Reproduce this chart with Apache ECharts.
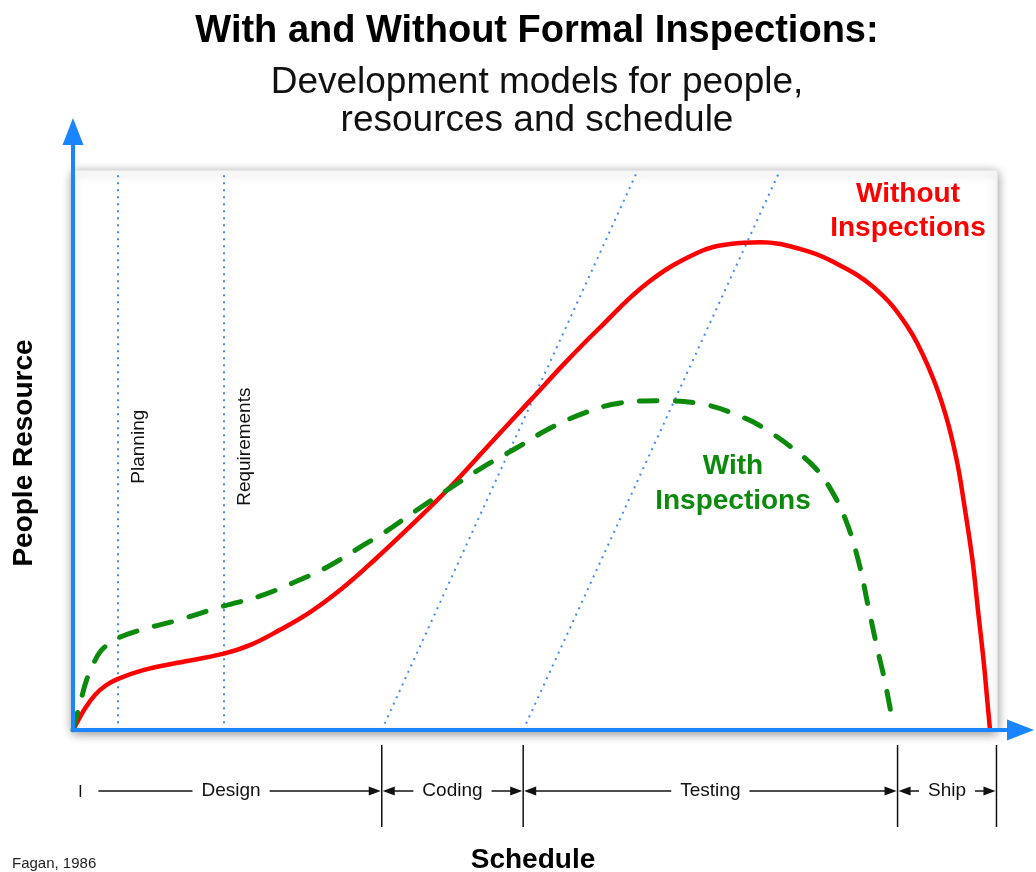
<!DOCTYPE html>
<html>
<head>
<meta charset="utf-8">
<title>With and Without Formal Inspections</title>
<script src="https://cdn.jsdelivr.net/npm/echarts@6/dist/echarts.min.js"></script>
<style>
  html, body { margin: 0; padding: 0; background: #fff; }
  #chart { width: 1036px; height: 872px; }
</style>
</head>
<body>
<div id="chart"></div>
<script>
// x = schedule (0..100 across the box), y = people resource (0..100 up to the box top)
const withoutInspections = [
    [0, 0], [0.65, 2.0], [1.4, 4.1], [2.4, 6.3], [3.5, 7.9], [4.8, 9.1], [7.6, 10.7],
    [11.3, 12.0], [16.2, 13.6], [19.2, 15.2], [22.4, 17.9], [25.7, 21.1], [29.2, 25.4],
    [32.7, 30.5], [36.5, 36.4], [40.8, 43.4], [45.1, 51.1], [49.6, 59.1], [53.3, 65.7],
    [56.7, 71.4], [62.1, 79.8], [67.5, 85.2], [71.1, 86.8], [74.4, 87.1], [78.7, 85.9],
    [81.9, 83.9], [86.6, 79.1], [90.3, 72.0], [92.8, 63.8], [94.4, 56.3], [95.6, 48.2],
    [96.5, 39.3], [97.3, 30.4], [97.9, 21.4], [98.5, 12.5], [98.9, 5.4], [99.2, 0]
];
const withInspections = [
    [0, 0], [0.43, 2.7], [0.87, 5.4], [1.4, 8.6], [2.2, 11.8], [3.0, 14.1], [4.0, 15.5],
    [5.1, 16.6], [7.6, 18.0], [11.3, 19.6], [16.2, 22.1], [20.2, 23.9], [23.8, 26.3],
    [27.5, 29.1], [31.1, 32.7], [33.8, 35.4], [37.2, 39.3], [40.8, 43.2], [44.4, 47.0],
    [48.1, 50.5], [51.6, 53.9], [55.6, 56.8], [59.2, 58.4], [63.5, 58.8], [67.5, 58.4],
    [72.7, 55.7], [75.4, 53.2], [78.1, 50.0], [80.3, 46.8], [81.9, 43.2], [83.6, 37.5],
    [85.0, 30.0], [86.0, 22.3], [87.0, 14.6], [87.8, 8.9], [88.6, 2.1]
];

// dotted guides
const guideNames = ['Planning', 'Requirements'];
const guideX = [4.8, 16.3];
const slantFrom = [33.4, 48.7];
const slantTo = [61.1, 76.5];

// phase bar under the axis
const phaseNames = ['Design', 'Coding', 'Testing', 'Ship'];
const phaseStart = [0.8, 33.4, 48.7, 89.2];
const phaseEnd = [33.4, 48.7, 89.2, 99.9];

const FONT = '"Liberation Sans", Arial, Helvetica, sans-serif';
const blue = '#1a85ff';

var chartDom = document.getElementById('chart');
var myChart = echarts.init(chartDom);

const arrowLine = {
    show: true,
    symbol: ['none', 'triangle'],
    symbolSize: [21, 27],
    lineStyle: { color: blue, width: 4 }
};

const renderPhase = (params, api) => {
    const i = params.dataIndex;
    const a = api.coord([api.value(0), 0.44]);
    const b = api.coord([api.value(1), 0.44]);
    const top = api.coord([0, 1])[1];
    const bottom = api.coord([0, 0])[1];
    const y = a[1];
    const ink = { stroke: '#111', lineWidth: 1.5 };
    const head = 12, half = 4.5;
    const kids = [
        { type: 'line', shape: { x1: b[0], y1: top, x2: b[0], y2: bottom }, style: ink },
        { type: 'polygon', shape: { points: [[b[0] - 1, y], [b[0] - 1 - head, y - half], [b[0] - 1 - head, y + half]] }, style: { fill: '#111' } }
    ];
    let x0;
    if (i === 0) {
        kids.push({ type: 'line', shape: { x1: a[0], y1: y - 6, x2: a[0], y2: y + 6 }, style: ink });
        x0 = a[0] + 18;
    } else {
        kids.push({ type: 'polygon', shape: { points: [[a[0] + 1, y], [a[0] + 1 + head, y - half], [a[0] + 1 + head, y + half]] }, style: { fill: '#111' } });
        x0 = a[0] + head;
    }
    kids.push({ type: 'line', shape: { x1: x0, y1: y, x2: b[0] - head, y2: y }, style: ink });
    kids.push({
        type: 'text', x: (a[0] + b[0]) / 2, y: y,
        style: {
            text: phaseNames[i], fontSize: 19, fontFamily: FONT, fill: '#111',
            align: 'center', verticalAlign: 'middle', backgroundColor: '#fff', padding: [2, 9]
        }
    });
    return { type: 'group', children: kids };
};

var option = {
    animation: false,
    backgroundColor: '#fff',
    title: {
        text: 'With and Without Formal Inspections:',
        subtext: 'Development models for people,\nresources and schedule',
        left: 532,
        textAlign: 'center',
        top: 7,
        itemGap: 12,
        textStyle: { fontFamily: FONT, fontSize: 38, fontWeight: 'bold', color: '#000', lineHeight: 40 },
        subtextStyle: { fontFamily: FONT, fontSize: 37, color: '#111', lineHeight: 38 }
    },
    grid: [
        { left: 73, right: 15.5, top: 131.5, bottom: 142 },
        { left: 73, right: 15.5, top: 745, bottom: 45 }
    ],
    xAxis: [
        {
            type: 'value', min: 0, max: 102.5, z: 6,
            axisLine: arrowLine, axisTick: { show: false }, axisLabel: { show: false }, splitLine: { show: false }
        },
        { type: 'value', gridIndex: 1, min: 0, max: 102.5, show: false }
    ],
    yAxis: [
        {
            type: 'value', min: 0, max: 106.9, z: 6,
            axisLine: arrowLine, axisTick: { show: false }, axisLabel: { show: false }, splitLine: { show: false }
        },
        { type: 'value', gridIndex: 1, min: 0, max: 1, show: false }
    ],
    series: [
        {
            // the white card with its drop shadow
            type: 'line', data: [], z: 1, silent: true,
            markArea: {
                silent: true, z: 1,
                itemStyle: {
                    color: '#fff', borderColor: '#e2e2e2', borderWidth: 1,
                    shadowBlur: 10, shadowColor: 'rgba(0,0,0,0.45)', shadowOffsetY: 3
                },
                data: [[{ coord: [0, 0] }, { coord: [100, 100] }]]
            }
        },
        {
            type: 'line', data: [], z: 2, silent: true,
            markLine: {
                silent: true, z: 2, symbol: 'none',
                lineStyle: { color: '#3d8bff', width: 2, type: [2, 5] },
                label: {
                    position: 'insideMiddleBottom', distance: 12, formatter: '{b}',
                    color: '#111', fontSize: 19, fontFamily: FONT
                },
                data: guideX.map((x, i) => [{ coord: [x, 1.2], name: guideNames[i] }, { coord: [x, 100] }])
                    .concat(slantFrom.map((x, i) => [{ coord: [x, 0], name: '' }, { coord: [slantTo[i], 100] }]))
            }
        },
        {
            name: 'Without Inspections',
            type: 'line', z: 3, smooth: 0.4, symbol: 'none',
            lineStyle: { color: '#ff0000', width: 4.5 },
            data: withoutInspections
        },
        {
            name: 'With Inspections',
            type: 'line', z: 3, smooth: 0.4, symbol: 'none',
            lineStyle: { color: '#0b8a0b', width: 5, type: [18, 18], cap: 'round' },
            data: withInspections
        },
        {
            type: 'custom', xAxisIndex: 1, yAxisIndex: 1, z: 3, silent: true, clip: false,
            renderItem: renderPhase,
            data: phaseNames.map((n, i) => [phaseStart[i], phaseEnd[i], i])
        }
    ],
    graphic: [
        {
            type: 'text', x: 24, y: 453, rotation: Math.PI / 2, z: 10,
            style: { text: 'People Resource', fontSize: 28, fontWeight: 'bold', fontFamily: FONT, fill: '#000', align: 'center', verticalAlign: 'middle' }
        },
        {
            type: 'text', x: 533, y: 860, z: 10,
            style: { text: 'Schedule', fontSize: 28, fontWeight: 'bold', fontFamily: FONT, fill: '#000', align: 'center', verticalAlign: 'middle' }
        },
        {
            type: 'text', x: 12, y: 864, z: 10,
            style: { text: 'Fagan, 1986', fontSize: 15, fontFamily: FONT, fill: '#222', align: 'left', verticalAlign: 'middle' }
        },
        {
            type: 'text', x: 908, y: 211, z: 10,
            style: { text: 'Without\nInspections', fontSize: 28, fontWeight: 'bold', fontFamily: FONT, fill: '#ff0000', align: 'center', verticalAlign: 'middle', lineHeight: 34 }
        },
        {
            type: 'text', x: 733, y: 484, z: 10,
            style: { text: 'With\nInspections', fontSize: 28, fontWeight: 'bold', fontFamily: FONT, fill: '#0b8a0b', align: 'center', verticalAlign: 'middle', lineHeight: 35 }
        }
    ]
};

option && myChart.setOption(option);
</script>
</body>
</html>
